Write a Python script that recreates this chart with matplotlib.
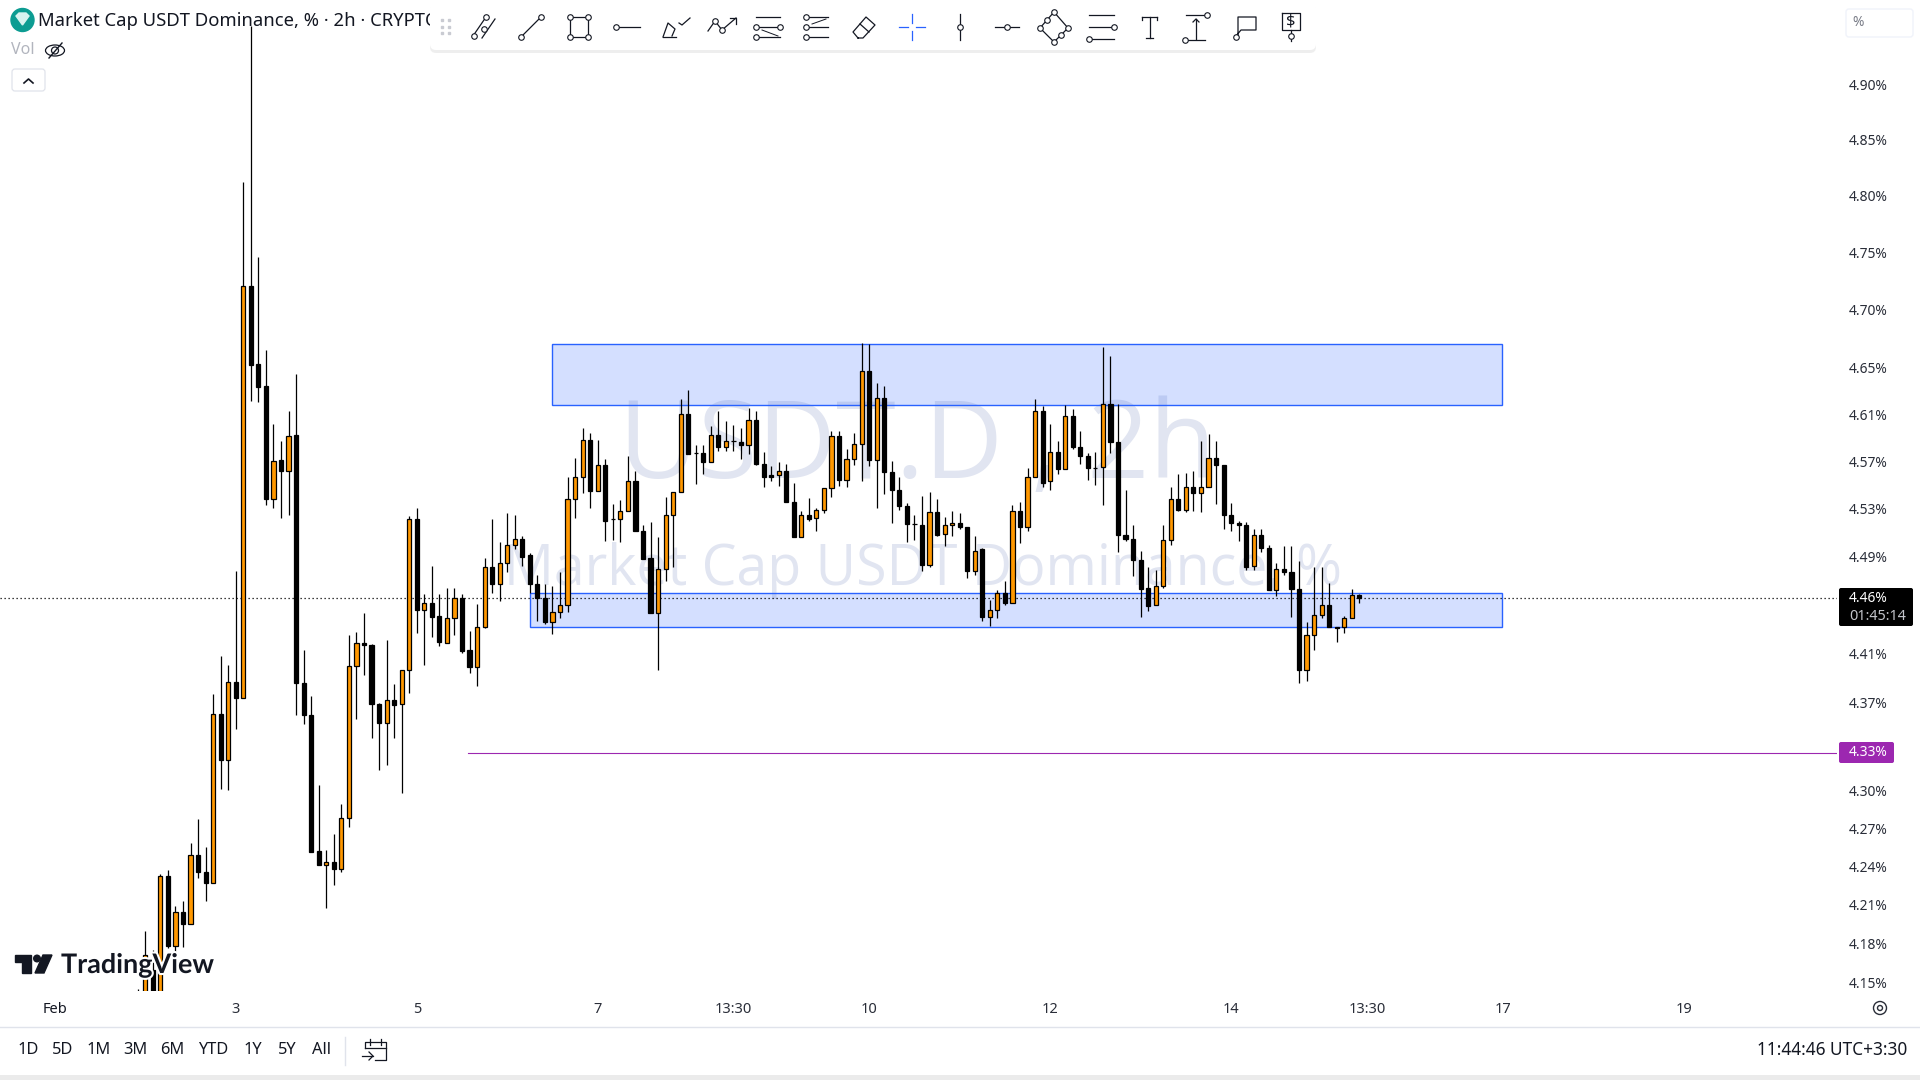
import matplotlib
matplotlib.use("Agg")
import matplotlib.pyplot as plt
from matplotlib.patches import Rectangle, FancyBboxPatch, Circle, Polygon, Ellipse
from matplotlib.ticker import NullLocator
import matplotlib.patheffects as pe

plt.rcParams['font.family'] = ['Noto Sans', 'DejaVu Sans']

# 2h bars, index 0 = Feb 3 00:00
first_bar = -13
opens = [4.135,4.125,4.159,4.130,4.232,4.178,4.204,4.195,4.249,4.235,4.227,4.361,4.324,
 4.387,4.374,4.721,4.653,4.634,4.538,4.571,4.562,4.592,4.386,4.360,4.252,4.241,4.243,4.238,4.278,4.400,4.419,
 4.417,4.369,4.354,4.372,4.369,4.397,4.521,4.446,4.452,4.441,4.419,4.439,4.456,4.413,4.399,4.432,4.481,4.467,
 4.485,4.500,4.505,4.491,4.467,4.456,4.436,4.444,4.450,4.538,4.557,4.588,4.545,4.567,4.521,4.521,4.528,4.553,
 4.511,4.489,4.443,4.480,4.525,4.544,4.610,4.577,4.577,4.569,4.592,4.582,4.587,4.586,4.584,4.605,4.568,4.558,
 4.558,4.562,4.536,4.506,4.525,4.522,4.529,4.547,4.591,4.554,4.572,4.585,4.647,4.571,4.624,4.561,4.546,4.532,
 4.517,4.516,4.483,4.527,4.509,4.516,4.518,4.515,4.478,4.496,4.440,4.446,4.460,4.452,4.528,4.515,4.557,4.613,
 4.553,4.578,4.563,4.608,4.582,4.574,4.564,4.565,4.619,4.586,4.508,4.505,4.487,4.464,4.450,4.466,4.504,4.538,
 4.529,4.548,4.543,4.548,4.573,4.567,4.525,4.518,4.516,4.482,4.508,4.497,4.462,4.480,4.477,4.463,4.397,4.425,
 4.442,4.450,4.432,4.432,4.439,4.458]
highs = [4.145,4.189,4.175,4.234,4.237,4.209,4.213,4.258,4.277,4.255,4.377,4.408,4.401,
 4.478,4.812,4.953,4.746,4.665,4.602,4.587,4.613,4.644,4.413,4.376,4.304,4.253,4.265,4.289,4.425,4.428,4.443,
 4.418,4.370,4.421,4.385,4.397,4.524,4.531,4.459,4.482,4.459,4.464,4.464,4.459,4.429,4.451,4.489,4.521,4.502,
 4.526,4.525,4.507,4.493,4.475,4.467,4.466,4.477,4.557,4.573,4.598,4.594,4.588,4.572,4.534,4.537,4.574,4.562,
 4.516,4.519,4.506,4.540,4.544,4.623,4.631,4.584,4.584,4.600,4.613,4.604,4.601,4.598,4.615,4.613,4.578,4.566,
 4.569,4.568,4.552,4.528,4.539,4.531,4.547,4.596,4.596,4.580,4.594,4.671,4.670,4.637,4.634,4.570,4.557,4.535,
 4.525,4.541,4.544,4.538,4.523,4.528,4.526,4.515,4.507,4.497,4.454,4.462,4.470,4.533,4.536,4.564,4.623,4.617,
 4.602,4.587,4.618,4.614,4.596,4.577,4.578,4.668,4.660,4.619,4.546,4.516,4.495,4.481,4.479,4.516,4.548,4.559,
 4.560,4.562,4.587,4.593,4.587,4.567,4.535,4.520,4.519,4.513,4.513,4.500,4.485,4.499,4.499,4.486,4.436,4.481,
 4.481,4.468,4.432,4.441,4.463,4.459]
lows = [4.110,4.110,4.120,4.120,4.176,4.173,4.177,4.195,4.231,4.213,4.227,4.301,4.300,
 4.349,4.374,4.621,4.620,4.533,4.531,4.522,4.525,4.360,4.353,4.251,4.241,4.207,4.225,4.235,4.271,4.357,4.393,
 4.342,4.316,4.320,4.342,4.298,4.378,4.427,4.401,4.424,4.416,4.419,4.425,4.411,4.394,4.384,4.431,4.460,4.453,
 4.477,4.496,4.482,4.460,4.437,4.434,4.426,4.439,4.444,4.522,4.543,4.531,4.545,4.503,4.504,4.502,4.528,4.511,
 4.488,4.443,4.397,4.470,4.481,4.544,4.576,4.551,4.559,4.569,4.579,4.579,4.579,4.572,4.576,4.567,4.548,4.553,
 4.549,4.536,4.506,4.506,4.520,4.511,4.526,4.540,4.549,4.548,4.567,4.553,4.566,4.531,4.542,4.518,4.529,4.502,
 4.504,4.478,4.481,4.507,4.499,4.507,4.513,4.472,4.475,4.437,4.433,4.439,4.450,4.452,4.501,4.511,4.557,4.548,
 4.546,4.559,4.563,4.580,4.568,4.554,4.550,4.533,4.577,4.494,4.503,4.474,4.440,4.445,4.450,4.464,4.500,4.528,
 4.527,4.528,4.527,4.548,4.534,4.513,4.511,4.503,4.479,4.479,4.494,4.462,4.457,4.475,4.440,4.386,4.388,4.413,
 4.439,4.432,4.420,4.427,4.439,4.452]
closes = [4.125,4.171,4.130,4.232,4.178,4.204,4.195,4.249,4.235,4.227,4.361,4.324,4.387,
 4.374,4.721,4.652,4.633,4.538,4.570,4.562,4.591,4.386,4.360,4.251,4.241,4.243,4.238,4.278,4.400,4.419,4.417,
 4.369,4.354,4.372,4.368,4.397,4.521,4.446,4.452,4.440,4.420,4.439,4.456,4.412,4.399,4.432,4.481,4.467,4.485,
 4.500,4.505,4.490,4.467,4.456,4.436,4.444,4.450,4.538,4.557,4.588,4.545,4.567,4.520,4.521,4.528,4.553,4.511,
 4.488,4.443,4.480,4.525,4.544,4.610,4.576,4.577,4.569,4.592,4.582,4.587,4.587,4.584,4.605,4.568,4.557,4.557,
 4.562,4.536,4.506,4.525,4.521,4.529,4.547,4.591,4.554,4.572,4.585,4.647,4.571,4.624,4.561,4.546,4.532,4.517,
 4.517,4.483,4.527,4.508,4.516,4.518,4.515,4.478,4.495,4.440,4.446,4.460,4.452,4.528,4.515,4.557,4.613,4.552,
 4.578,4.563,4.608,4.582,4.574,4.564,4.564,4.619,4.586,4.508,4.505,4.487,4.463,4.449,4.466,4.504,4.538,4.529,
 4.548,4.543,4.548,4.573,4.567,4.525,4.518,4.516,4.481,4.508,4.497,4.462,4.480,4.477,4.463,4.397,4.425,4.442,
 4.450,4.432,4.431,4.439,4.458,4.456]

last_price = 4.456
target_price = 4.33
target_start = 30.8
upper_zone = (42, 167.9, 4.6174, 4.670)
lower_zone = (39, 167.9, 4.432, 4.460)

price_ticks = [4.90,4.85,4.80,4.75,4.70,4.65,4.61,4.57,4.53,4.49,4.41,4.37,4.30,4.27,4.24,4.21,4.18,4.15]
time_ticks = [-24,0,24,48,66,84,108,132,150,168,192]
time_labels = ['Feb','3','5','7','13:30','10','12','14','13:30','17','19']
ranges = ['1D','5D','1M','3M','6M','YTD','1Y','5Y','All']
range_x = [28,63,99,135,172,213,253,287,322]

UP = '#FF9800'
DOWN = '#000000'
TXT = '#131722'

fig = plt.figure(figsize=(19.2, 10.8), dpi=100, facecolor='white')
ax = fig.add_axes([0, (1080-991)/1080, 1837/1920, 991/1080])
ax.set_yscale('log')
ax.set_ylim(4.1431, 4.9773)
ax.set_xlim(-31.27, 212.35)
for s in ax.spines.values():
    s.set_visible(False)

# watermark sits under everything
ax.text(0.4995, 0.559, 'USDT.D , 2h', transform=ax.transAxes, ha='center', va='center_baseline',
        fontsize=78, color='#e1e5f1', family='Open Sans', zorder=0)
ax.text(0.5025, 0.431, 'Market Cap USDT Dominance, %', transform=ax.transAxes, ha='center', va='center_baseline',
        fontsize=40, color='#e1e5f1', family='Open Sans', zorder=0)

# zones
for x0, x1, lo, hi in (upper_zone, lower_zone):
    ax.add_patch(Rectangle((x0, lo), x1-x0, hi-lo, facecolor='#2962FF', alpha=0.2, edgecolor='none', zorder=1))
    ax.add_patch(Rectangle((x0, lo), x1-x0, hi-lo, facecolor='none', edgecolor='#2962FF', linewidth=1.0, zorder=1.1))

# last price and horizontal line
ax.axhline(last_price, color='black', linewidth=0.9, linestyle=(0, (1, 2.2)), zorder=2)
ax.plot([target_start, 213], [target_price, target_price], color='#9C27B0', linewidth=0.8, zorder=2)

# candles
idx = [first_bar + i for i in range(len(opens))]
ax.vlines(idx, lows, highs, color='black', linewidth=0.9, zorder=3)
bottoms = [min(o, c) for o, c in zip(opens, closes)]
heights = [abs(c - o) for o, c in zip(opens, closes)]
colors = [UP if c > o else DOWN for o, c in zip(opens, closes)]
ax.bar(idx, heights, bottom=bottoms, width=0.55, color=colors, edgecolor='black', linewidth=0.9, zorder=4)

ax.yaxis.tick_right()
ax.yaxis.set_minor_locator(NullLocator())
ax.set_yticks(price_ticks)
ax.set_yticklabels(['%.2f%%' % p for p in price_ticks])
ax.tick_params(axis='y', length=0, pad=8.5, labelsize=10, labelcolor='#2a2e39')
ax.set_xticks(time_ticks)
ax.set_xticklabels(time_labels)
ax.tick_params(axis='x', length=0, pad=8, labelsize=10.5, labelcolor='#2a2e39')
ax.get_xticklabels()[0].set_color(TXT)
ax.get_xticklabels()[0].set_fontweight('semibold')

# interface drawn over the chart, in screen pixels
ov = fig.add_axes([0, 0, 1, 1], facecolor='none')
ov.set_xlim(0, 1920)
ov.set_ylim(1080, 0)
ov.axis('off')

# header
ov.text(38, 21, 'Market Cap USDT Dominance, % · 2h · CRYPTO', fontsize=13.3, color=TXT, va='center', ha='left', zorder=2)
ov.add_patch(Circle((22.5, 20), 11.5, color='#0c9c92', zorder=3))
ov.add_patch(Polygon([[16, 16], [19, 13], [26, 13], [29, 16], [22.5, 25]], color='#d8f3f0', zorder=4))
ov.text(11, 50, 'Vol', fontsize=11.5, color='#b2b5be', va='center')
ov.add_patch(Ellipse((55, 50.5), 19, 11, fill=False, edgecolor=TXT, linewidth=0.9))
ov.add_patch(Circle((55, 50.5), 3.5, fill=False, edgecolor=TXT, linewidth=0.9))
ov.plot([49, 62], [58, 43], color=TXT, linewidth=1)
ov.add_patch(FancyBboxPatch((13, 70), 31, 20, boxstyle='round,pad=1,rounding_size=3', fc='white', ec='#e0e3eb', linewidth=0.9))
ov.plot([24, 28.5, 33], [83, 79, 83], color=TXT, linewidth=1.2)

# toolbar
ov.add_patch(FancyBboxPatch((431, 6), 884, 46, boxstyle='round,pad=1,rounding_size=6', fc='#e4e4e4', ec='none', alpha=0.6, zorder=5))
ov.add_patch(FancyBboxPatch((431, 3), 884, 46, boxstyle='round,pad=1,rounding_size=6', fc='white', ec='none', zorder=6))
for gx in (442, 449):
    for gy in (20, 27, 33):
        ov.plot(gx, gy, 's', ms=1.8, color='#c9cbd2', zorder=7)

def seg(pts, color=TXT, lw=0.9):
    ov.plot([p[0] for p in pts], [p[1] for p in pts], color=color, linewidth=lw, zorder=7)

def dots(pts):
    ov.plot([p[0] for p in pts], [p[1] for p in pts], 'o', ms=4, mfc='white', mec=TXT, mew=0.8, zorder=8)

cy = 27
# trend channel
seg([(473, cy+9), (486, cy-10)]); seg([(482, cy+11), (495, cy-8)]); dots([(474, cy+9), (484, cy+2), (486, cy-10)])
# trend line
seg([(521, cy+10), (541, cy-10)]); dots([(521, cy+10), (541, cy-10)])
# rectangle
seg([(570, cy-10), (588, cy-10), (588, cy+10), (570, cy+10), (570, cy-10)])
dots([(570, cy-10), (588, cy-10), (588, cy+10), (570, cy+10)])
# ray
seg([(616, cy), (640, cy)]); dots([(616, cy)])
# brush
seg([(663, cy+10), (676, cy+10)]); seg([(663, cy+10), (668, cy-4), (675, cy+2), (672, cy+9)])
seg([(679, cy-4), (682, cy-2), (690, cy-9)])
# path
seg([(708, cy+4), (715, cy-6), (722, cy+3), (736, cy-9)]); seg([(730, cy-9), (736, cy-9), (736, cy-3)]); dots([(715, cy-6), (722, cy+3)])
# fibs
for off in (-10, 0, 10):
    seg([(756, cy+off), (780, cy+off)])
dots([(756, cy), (780, cy), (756, cy+10)])
seg([(762, cy+3), (778, cy+9)], lw=0.7)
for off in (-10, 0, 10):
    seg([(806, cy+off), (828, cy+off)])
dots([(806, cy-10), (806, cy), (806, cy+10)])
seg([(812, cy-3), (826, cy-8)], lw=0.7)
# eraser
seg([(858, cy+11), (853, cy+5), (866, cy-10), (875, cy-2), (863, cy+11), (858, cy+11)]); seg([(860, cy-3), (869, cy+5)])
# crosshair
seg([(912, cy-13), (912, cy-4)], '#2962FF'); seg([(912, cy+4), (912, cy+13)], '#2962FF')
seg([(899, cy), (908, cy)], '#2962FF'); seg([(916, cy), (925, cy)], '#2962FF')
# vertical, horizontal
seg([(960, cy-13), (960, cy+13)]); dots([(960, cy)])
seg([(995, cy), (1019, cy)]); dots([(1007, cy)])
# pattern
seg([(1040, cy+1), (1054, cy-15), (1068, cy+1), (1054, cy+15), (1040, cy+1)])
dots([(1040, cy+1), (1047, cy-7), (1054, cy-15), (1068, cy+1), (1061, cy+8), (1054, cy+15)])
# level lines
for off in (-12, 0, 12):
    seg([(1089, cy+off), (1114, cy+off)])
dots([(1114, cy), (1089, cy+12)])
# text
seg([(1142, cy-10), (1157, cy-10)]); seg([(1149.5, cy-10), (1149.5, cy+11)]); seg([(1146, cy+11), (1153, cy+11)])
seg([(1142, cy-10), (1142, cy-7)]); seg([(1157, cy-10), (1157, cy-7)])
# measure
seg([(1186, cy-12), (1205, cy-12)]); seg([(1186, cy+13), (1205, cy+13)]); seg([(1196, cy-8), (1196, cy+12)])
seg([(1193, cy-5), (1196, cy-8), (1199, cy-5)])
dots([(1207, cy-12), (1185, cy+13)])
# note
seg([(1238, cy+8), (1238, cy-10), (1256, cy-10), (1256, cy+3), (1241, cy+3), (1236, cy+9)]); dots([(1236, cy+10)])
# long position
seg([(1282, cy-14), (1300, cy-14), (1300, cy+3), (1282, cy+3), (1282, cy-14)]); seg([(1291, cy+3), (1291, cy+14)]); dots([(1291, cy+9)])
ov.text(1291, cy-5.5, '$', fontsize=12, ha='center', va='center', color=TXT, zorder=8)

# top right percent box
ov.add_patch(FancyBboxPatch((1846, 9), 67, 28, boxstyle='round,pad=0,rounding_size=3', fc='white', ec='#f0f3fa', linewidth=1))
ov.text(1852, 23, '%', fontsize=10, color='#787b86', va='center')

# TradingView logo
ov.add_patch(Polygon([[15, 955], [31, 955], [31, 973], [22, 973], [22, 962], [15, 962]], color='#131722', zorder=5))
ov.add_patch(Polygon([[43, 955], [52, 955], [44, 973], [35, 973]], color='#131722', zorder=5))
ov.add_patch(Circle((37, 958.5), 3.3, color='#131722', zorder=5))
ov.text(61, 965, 'TradingView', fontsize=19.4, fontweight='bold', color='#131722', va='center', ha='left', family='Lato',
        zorder=5, path_effects=[pe.withStroke(linewidth=3, foreground='white')])

# price badges
ov.add_patch(FancyBboxPatch((1839, 588), 74, 38, boxstyle='round,pad=0,rounding_size=2', fc='black', ec='none'))
ov.text(1849, 599, '4.46%', fontsize=10, color='white', va='center', fontweight='medium')
ov.text(1849, 616, '01:45:14', fontsize=10.4, color='#c3c5cb', va='center')
ov.add_patch(FancyBboxPatch((1839, 742), 55, 21, boxstyle='round,pad=0,rounding_size=2', fc='#9C27B0', ec='none'))
ov.text(1849, 752.5, '4.33%', fontsize=10, color='white', va='center', fontweight='medium')

# gear
ov.add_patch(Circle((1880, 1008), 6.5, fill=False, edgecolor='#2a2e39', linewidth=1))
ov.add_patch(Circle((1880, 1008), 2.5, fill=False, edgecolor='#2a2e39', linewidth=1))

# footer
ov.plot([0, 1920], [1026.5, 1026.5], color='#e0e3eb', linewidth=1)
ov.add_patch(Rectangle((0, 1075), 1920, 5, color='#ebebeb', linewidth=0))
for lab, lx in zip(ranges, range_x):
    ov.text(lx, 1050, lab, fontsize=11.8, ha='center', va='center', color=TXT)
ov.plot([345, 345], [1037, 1065], color='#e0e3eb', linewidth=1)
seg([(365, 1048), (365, 1042), (386, 1042), (386, 1060), (375, 1060)])
seg([(365, 1048), (386, 1048)]); seg([(370, 1039), (370, 1045)]); seg([(381, 1039), (381, 1045)])
seg([(362, 1056), (373, 1056)]); seg([(369, 1052), (373, 1056), (369, 1060)])
ov.text(1907, 1050, '11:44:46 UTC+3:30', fontsize=12.4, ha='right', va='center', color=TXT)

fig.savefig('out.png', dpi=100, facecolor='white')
